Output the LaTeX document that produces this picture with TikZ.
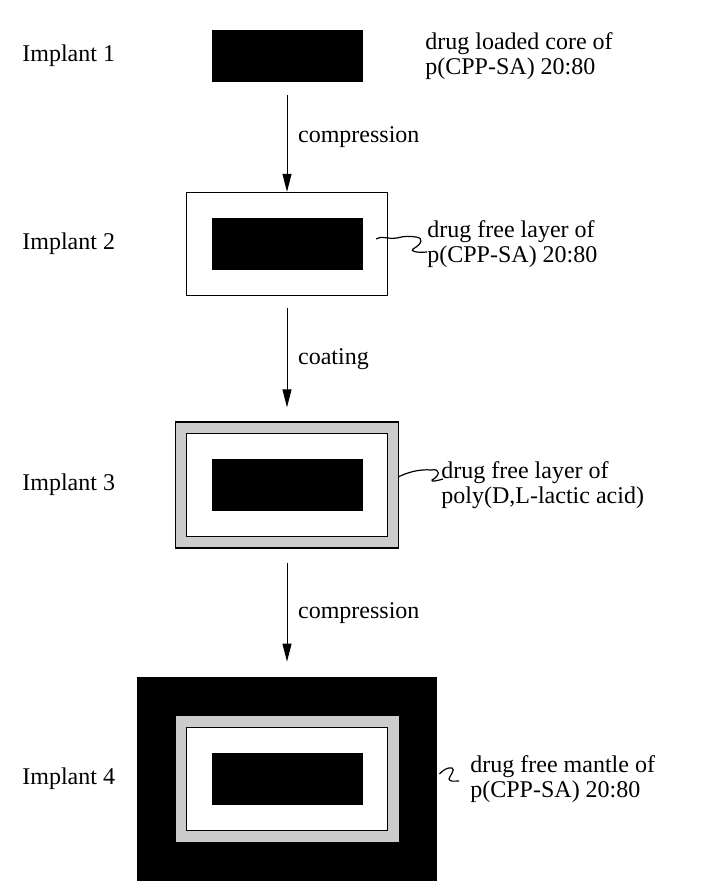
\documentclass[tikz,border=0pt]{standalone}
\usepackage{fontspec}
\setmainfont{Liberation Serif}
\usetikzlibrary{positioning, arrows.meta}

\begin{document}
\begin{tikzpicture}[
    x=0.5pt, y=-0.5pt,
    every node/.style={font=\fontsize{12}{12.5}\selectfont},
    core/.style={rectangle, fill=black, minimum width=75.5pt, minimum height=26pt, inner sep=0pt},
    layer/.style={rectangle, draw, fill=white, line width=0.7pt, minimum width=100.5pt, minimum height=51.5pt, inner sep=0pt},
    coat/.style={rectangle, fill=black!20, minimum width=111.5pt, minimum height=63pt, inner sep=0pt},
    mantle/.style={rectangle, fill=black, minimum width=150pt, minimum height=102pt, inner sep=0pt},
    tag/.style={anchor=west, inner sep=0pt},
    note/.style={anchor=west, align=left, inner sep=0pt},
    flow/.style={-{Triangle[length=9pt, width=4.5pt]}, line width=0.5pt},
    leader/.style={line width=0.6pt}
]
    \useasboundingbox (0,0) rectangle (717,894);

    % Implants
    \node[core] (core1) at (287,56) {};
    \node[layer] (layer2) at (287,244) {};
    \node[core] (core2) at (layer2.center) {};
    \node[coat, draw, line width=0.7pt] (coat3) at (287,485) {};
    \node[layer] (layer3) at (coat3.center) {};
    \node[core] (core3) at (coat3.center) {};
    \node[mantle] (mantle4) at (287,779) {};
    \node[coat] (coat4) at (mantle4.center) {};
    \node[layer] (layer4) at (mantle4.center) {};
    \node[core] (core4) at (mantle4.center) {};

    % Labels
    \node[tag] (tag1) at (22,0 |- core1) {Implant 1};
    \node[tag] (tag2) at (22,0 |- core2) {Implant 2};
    \node[tag] (tag3) at (22,0 |- core3) {Implant 3};
    \node[tag] (tag4) at (22,0 |- core4) {Implant 4};

    \node[note] (note1) at (425,0 |- core1) {drug loaded core of\\p(CPP-SA) 20:80};
    \node[note] (note2) at (427,0 |- core2) {drug free layer of\\p(CPP-SA) 20:80};
    \node[note] (note3) at (441,0 |- core3) {drug free layer of\\poly(D,L-lactic acid)};
    \node[note] (note4) at (470,0 |- core4) {drug free mantle of\\p(CPP-SA) 20:80};

    % Steps
    \draw[flow, shorten <=6.5pt] (core1) -- node[right=2pt] {compression} (layer2);
    \draw[flow, shorten <=6pt, shorten >=7pt] (layer2) -- node[right=2pt] {coating} (coat3);
    \draw[flow, shorten <=7pt, shorten >=7.5pt] (coat3) -- node[right=2pt] {compression} (mantle4);

    % Leaders
    \draw[leader] ([xshift=-6pt, yshift=2.5pt]layer2.east) .. controls (383,235) and (390,240) .. (397,238)
        .. controls (404,236) and (410,236) .. (416,237) .. controls (424,238) and (422,244) .. (413,249)
        .. controls (410,251) and (416,253) .. (427,252);
    \draw[leader] ([xshift=-0.5pt, yshift=4pt]coat3.east) .. controls (408,472) and (420,469) .. (431,470)
        .. controls (441,468) and (440,476) .. (432,480) .. controls (431,482) and (436,481) .. (443,479);
    \draw[leader] ([xshift=1pt, yshift=2.5pt]mantle4.east) .. controls (443,770) and (448,767) .. (452,768)
        .. controls (456,769) and (449,777) .. (449,779) .. controls (450,782) and (454,781) .. (459,781);
\end{tikzpicture}
\end{document}
